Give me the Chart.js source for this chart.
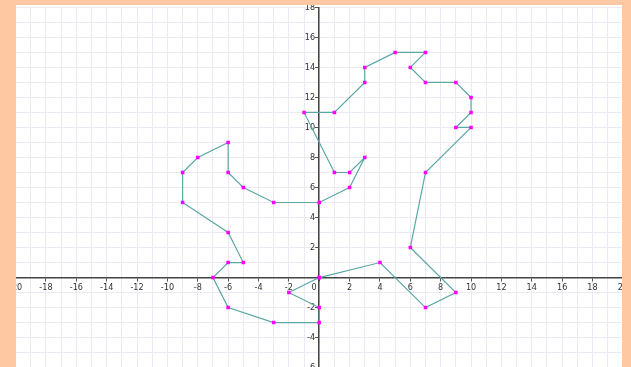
<!DOCTYPE html>
<html>
<head>
<meta charset="utf-8">
<script src="https://cdn.jsdelivr.net/npm/chart.js@4"></script>
<style>
  html, body { margin: 0; padding: 0; overflow: hidden; }
  body { width: 631px; height: 367px; background: #fdc8a2; position: relative; }
  #wrap { position: absolute; left: 16px; top: 5px; width: 606px; height: 363px; background: #fff; overflow: hidden; }
  #inner { position: absolute; left: -9px; top: -6px; width: 623px; height: 377px; }
</style>
</head>
<body>
<div id="wrap"><div id="inner"><canvas id="chart"></canvas></div></div>
<script>
const xValues = [0, 4, 7, 9, 6, 7, 10, 9, 10, 10, 9, 7, 6, 7, 5, 3, 3, 1, -1, 1, 2, 3, 2, 0, -3, -5, -6, -6, -8, -9, -9, -6, -5, -6, -7, -6, -3, 0, 0, -2, 0];
const yValues = [0, 1, -2, -1, 2, 7, 10, 10, 11, 12, 13, 13, 14, 15, 15, 14, 13, 11, 11, 7, 7, 8, 6, 5, 5, 6, 7, 9, 8, 7, 5, 3, 1, 1, 0, -2, -3, -3, -2, -1, 0];
const xRange = [-20, 20];
const yRange = [-6, 18];

const points = xValues.map((x, i) => ({ x: x, y: yValues[i] }));

function tickLabel(value) {
    if (value === 0 || value % 2 !== 0) return '';
    return String(value);
}

const labelFont = { family: "'DejaVu Sans Condensed', 'DejaVu Sans'", size: 9 };
const gridColor = '#ece9f3';
const tickColor = (ctx) => (ctx.tick && ctx.tick.value % 2 === 0 ? '#555' : 'rgba(0,0,0,0)');

new Chart(document.getElementById('chart'), {
    type: 'scatter',
    data: {
        datasets: [{
            data: points,
            showLine: true,
            borderColor: '#5aa7a4',
            borderWidth: 1.2,
            pointStyle: 'rect',
            pointRadius: 2.5,
            pointBackgroundColor: '#ff00ff',
            pointBorderColor: '#ff00ff',
            pointBorderWidth: 0
        }]
    },
    options: {
        responsive: true,
        maintainAspectRatio: false,
        animation: false,
        layout: { padding: 0 },
        plugins: {
            legend: { display: false },
            tooltip: { enabled: false }
        },
        scales: {
            x: {
                type: 'linear',
                position: { y: 0 },
                min: xRange[0],
                max: xRange[1],
                ticks: {
                    stepSize: 1,
                    autoSkip: false,
                    maxRotation: 0,
                    padding: 2,
                    color: '#333',
                    font: labelFont,
                    callback: (value) => (value === 0 ? '0    ' : tickLabel(value))
                },
                grid: { color: gridColor, tickColor: tickColor, tickLength: 3 },
                border: { display: true, color: '#444', width: 1.5 }
            },
            y: {
                type: 'linear',
                position: { x: 0 },
                min: yRange[0],
                max: yRange[1],
                ticks: {
                    stepSize: 1,
                    autoSkip: false,
                    color: '#333',
                    font: labelFont,
                    callback: (value) => {
                        const label = tickLabel(value);
                        return label ? label + ' \u2009' : '';
                    }
                },
                grid: { color: gridColor, tickColor: tickColor, tickLength: 3 },
                border: { display: true, color: '#444', width: 1.5 }
            }
        }
    }
});
</script>
</body>
</html>
